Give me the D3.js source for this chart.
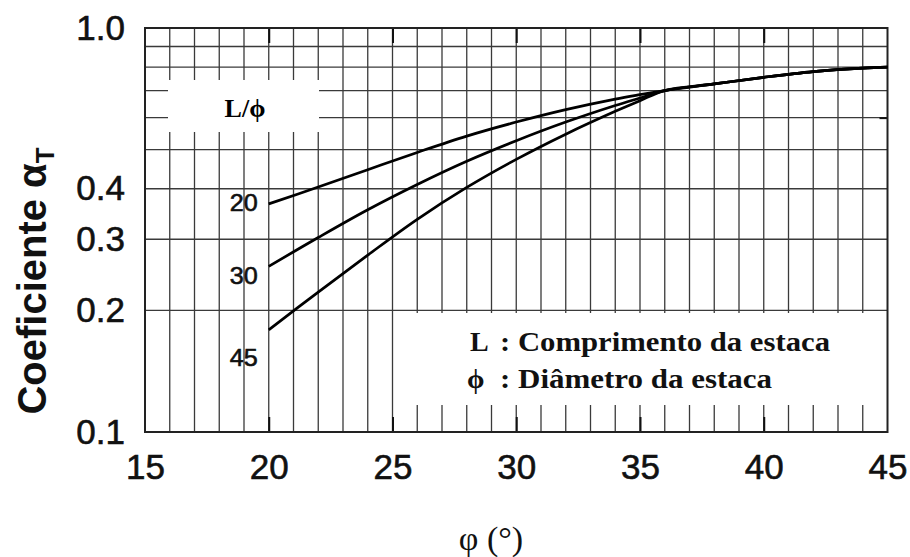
<!DOCTYPE html>
<html>
<head>
<meta charset="utf-8">
<script src="https://cdn.jsdelivr.net/npm/d3@7"></script>
<style>
  html, body { margin: 0; padding: 0; background: #fff; }
  svg { display: block; }
</style>
</head>
<body>
<svg id="chart" width="910" height="557"></svg>
<script>
// ---------------- DATA ----------------
const phi      = [20, 22, 24, 26, 28, 30, 32, 34, 35, 36, 38, 40, 42, 44, 45];
const alphaL20 = [0.367, 0.404, 0.446, 0.492, 0.540, 0.585, 0.628, 0.667, 0.684, 0.700, 0.727, 0.755, 0.780, 0.796, 0.800];
const alphaL30 = [0.257, 0.303, 0.355, 0.410, 0.468, 0.526, 0.585, 0.643, 0.671, 0.700, 0.727, 0.755, 0.780, 0.796, 0.800];
const alphaL45 = [0.179, 0.222, 0.274, 0.336, 0.403, 0.473, 0.546, 0.622, 0.661, 0.700, 0.727, 0.755, 0.780, 0.796, 0.800];
const seriesNames = ["20", "30", "45"];

const xTickValues = [15, 20, 25, 30, 35, 40, 45];
const xTickLabels = ["15", "20", "25", "30", "35", "40", "45"];
const yTickValues = [0.1, 0.2, 0.3, 0.4, 1.0];
const yTickLabels = ["0.1", "0.2", "0.3", "0.4", "1.0"];
const xGridValues = d3.range(16, 45, 1);
const yGridValues = [0.2, 0.3, 0.4, 0.5, 0.6, 0.7, 0.8, 0.9];

const yTitle = "Coeficiente α";
const yTitleSub = "T";
const xTitle = "φ (°)";
const boxTitle = "L/ϕ";
const legendLines = [["L", ": Comprimento da estaca"], ["ϕ", ": Diâmetro da estaca"]];

// ---------------- LAYOUT ----------------
const svg = d3.select("#chart");
const L = 145, R = 887.5, T = 28, B = 432;

const x = d3.scaleLinear().domain([15, 45]).range([L, R]);
const y = d3.scaleLog().domain([0.1, 1.0]).range([B, T]);

const g = svg.append("g");

// grid
g.append("g").selectAll("line").data(xGridValues).join("line")
  .attr("x1", d => x(d)).attr("x2", d => x(d))
  .attr("y1", T).attr("y2", B)
  .attr("stroke", "#3a3a3a").attr("stroke-width", 1.3);
g.append("g").selectAll("line").data(yGridValues).join("line")
  .attr("x1", L).attr("x2", R)
  .attr("y1", d => y(d)).attr("y2", d => y(d))
  .attr("stroke", "#3a3a3a").attr("stroke-width", 1.3);

// white boxes covering grid
g.append("rect").attr("x", 168).attr("y", 80).attr("width", 151).attr("height", 52).attr("fill", "#fff");
g.append("rect").attr("x", x(25) + 2).attr("y", 313).attr("width", R - x(25) - 2).attr("height", 92).attr("fill", "#fff");

// inner major ticks
const tickStyle = sel => { sel.select(".domain").remove(); sel.selectAll("line").attr("stroke", "#111").attr("stroke-width", 2); };
g.append("g").attr("transform", `translate(0,${B})`)
  .call(d3.axisBottom(x).tickValues([20, 25, 30, 35, 40]).tickSize(-15).tickFormat(""))
  .call(tickStyle);
g.append("g").attr("transform", `translate(0,${T})`)
  .call(d3.axisTop(x).tickValues([20, 25, 30, 35, 40]).tickSize(-15).tickFormat(""))
  .call(tickStyle);
g.append("g").attr("transform", `translate(${R},0)`)
  .call(d3.axisRight(y).tickValues([0.6]).tickSize(-8).tickFormat(""))
  .call(tickStyle);

// frame
g.append("rect").attr("x", L).attr("y", T).attr("width", R - L).attr("height", B - T)
  .attr("fill", "none").attr("stroke", "#222").attr("stroke-width", 2);

// axes labels
const yAx = g.append("g").attr("transform", `translate(${L},0)`)
  .call(d3.axisLeft(y).tickValues(yTickValues).tickSize(0).tickPadding(20)
    .tickFormat((d, i) => yTickLabels[i]));
yAx.select(".domain").remove();
yAx.selectAll("text").attr("font-family", "'Liberation Sans', Arial, sans-serif")
  .attr("font-size", 35).attr("fill", "#111").attr("stroke", "#111").attr("stroke-width", 0.6);

const xAx = g.append("g").attr("transform", `translate(0,${B})`)
  .call(d3.axisBottom(x).tickValues(xTickValues).tickSize(0).tickPadding(22)
    .tickFormat((d, i) => xTickLabels[i]));
xAx.select(".domain").remove();
xAx.selectAll("text").attr("font-family", "'Liberation Sans', Arial, sans-serif")
  .attr("font-size", 35).attr("fill", "#111").attr("stroke", "#111").attr("stroke-width", 0.6);

// curves
const series = [alphaL20, alphaL30, alphaL45];
const line = d3.line().x(d => x(d[0])).y(d => y(d[1])).curve(d3.curveCatmullRom.alpha(0.5));
g.append("g").selectAll("path").data(series).join("path")
  .attr("d", s => line(phi.map((p, i) => [p, s[i]])))
  .attr("fill", "none").attr("stroke", "#000").attr("stroke-width", 2.7)
  .attr("stroke-linejoin", "round");

// curve labels
const labelDy = [7, 18, 36];
g.append("g").selectAll("text").data(series).join("text")
  .attr("x", x(phi[0]) - 11)
  .attr("y", (s, i) => y(s[0]) + labelDy[i])
  .attr("text-anchor", "end")
  .attr("font-family", "'Liberation Sans', Arial, sans-serif")
  .attr("font-size", 24).attr("fill", "#111").attr("stroke", "#111").attr("stroke-width", 0.6)
  .attr("textLength", 28).attr("lengthAdjust", "spacingAndGlyphs")
  .text((s, i) => seriesNames[i]);

// L/phi box title
g.append("text").attr("x", 245).attr("y", 117).attr("text-anchor", "middle")
  .attr("font-family", "'Liberation Serif', 'Times New Roman', serif")
  .attr("font-weight", "bold").attr("font-size", 26)
  .text(boxTitle);

// legend text
const legWidths = [330, 272];
const leg = g.append("g");
legendLines.forEach((ln, i) => {
  const t = leg.append("text")
    .attr("y", 351 + i * 37)
    .attr("font-family", "'Liberation Serif', 'Times New Roman', serif")
    .attr("font-weight", "bold").attr("font-size", 28).attr("fill", "#111");
  t.append("tspan").attr("x", i === 0 ? 470 : 467).text(ln[0]);
  t.append("tspan").attr("x", 500)
    .attr("textLength", legWidths[i]).attr("lengthAdjust", "spacingAndGlyphs")
    .text(ln[1]);
});

// y title
const yt = svg.append("text")
  .attr("transform", "translate(46,281) rotate(-90)")
  .attr("text-anchor", "middle")
  .attr("font-family", "'Liberation Sans', Arial, sans-serif")
  .attr("font-weight", "bold").attr("font-size", 40).attr("fill", "#111");
yt.append("tspan").text(yTitle);
yt.append("tspan").attr("font-size", 26).attr("dy", 8).text(yTitleSub);

// x title
svg.append("text").attr("x", 491).attr("y", 550).attr("text-anchor", "middle")
  .attr("font-family", "'Liberation Serif', 'Times New Roman', serif")
  .attr("font-size", 34).attr("fill", "#111")
  .text(xTitle);
</script>
</body>
</html>
